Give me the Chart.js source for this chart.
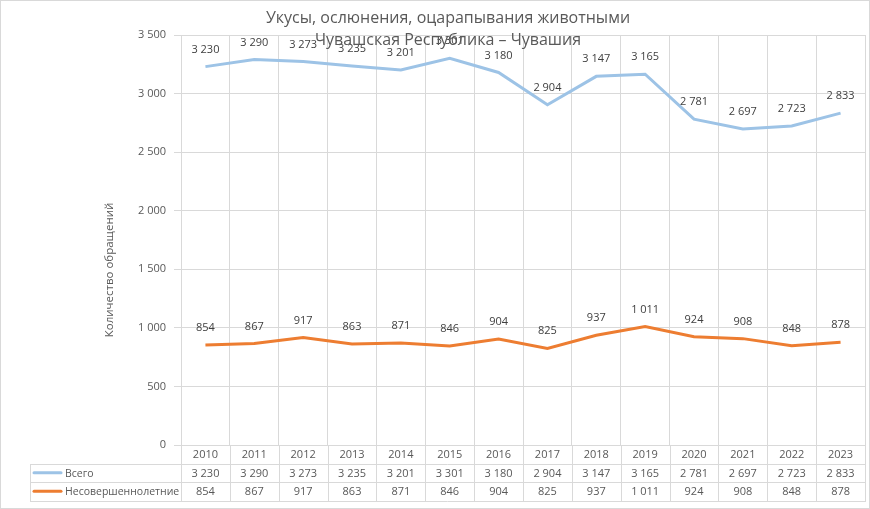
<!DOCTYPE html>
<html><head><meta charset="utf-8">
<script src="https://cdn.jsdelivr.net/npm/chart.js@4"></script>
<style>html,body{margin:0;padding:0;background:#fff}#wrap{width:870px;height:509px}</style>
</head><body><div id="wrap"><canvas id="c"></canvas></div>
<script>
const years = ['2010','2011','2012','2013','2014','2015','2016','2017','2018','2019','2020','2021','2022','2023'];
const total = [3230,3290,3273,3235,3201,3301,3180,2904,3147,3165,2781,2697,2723,2833];
const minors = [854,867,917,863,871,846,904,825,937,1011,924,908,848,878];
const seriesNames = ['Всего','Несовершеннолетние'];
const yTicks = [0,500,1000,1500,2000,2500,3000,3500];
const titleLines = ['Укусы, ослюнения, оцарапывания животными','Чувашская Республика – Чувашия'];
const yTitle = 'Количество обращений';

const FONT = '"Open Sans", "Noto Sans", sans-serif';
const fmt = v => String(v).replace(/\B(?=(\d{3})+(?!\d))/g, ' ');
const colors = ['#9DC3E6','#ED7D31'];
const gridC = '#D9D9D9';

const overlay = {
  id:'overlay',
  afterDraw(chart){
    const ctx = chart.ctx, x = chart.scales.x, ca = chart.chartArea;
    ctx.save();
    ctx.font = '11px ' + FONT; ctx.fillStyle = '#404040'; ctx.textAlign='center'; ctx.textBaseline='middle';
    chart.data.datasets.forEach((ds,i)=>{
      const meta = chart.getDatasetMeta(i);
      meta.data.forEach((p,j)=>{ ctx.fillText(fmt(ds.data[j]), p.x, p.y-17); });
    });
    ctx.font = '16px ' + FONT; ctx.fillStyle = '#595959';
    ctx.fillText(titleLines[0], 448, 18);
    ctx.fillText(titleLines[1], 448, 40);
    ctx.save(); ctx.translate(110, 270); ctx.rotate(-Math.PI/2);
    ctx.font = '11.5px ' + FONT; ctx.fillText(yTitle, 0, 0); ctx.restore();
    const rows = [ca.bottom, ca.bottom+18.5, ca.bottom+37, ca.bottom+55.5];
    const left = 30, right = ca.right;
    ctx.strokeStyle = gridC; ctx.lineWidth = 1;
    ctx.beginPath();
    ctx.moveTo(ca.left, rows[0]+0.5); ctx.lineTo(right, rows[0]+0.5);
    for (let r=1;r<4;r++){ ctx.moveTo(left, Math.round(rows[r])+0.5); ctx.lineTo(right, Math.round(rows[r])+0.5); }
    ctx.moveTo(left+0.5, Math.round(rows[1])); ctx.lineTo(left+0.5, Math.round(rows[3])+1);
    const n = years.length, step = (ca.right-ca.left)/n;
    for (let k=0;k<=n;k++){ const xx = Math.round(ca.left + k*step)+0.5; ctx.moveTo(xx, rows[0]); ctx.lineTo(xx, Math.round(rows[3])+1); }
    ctx.stroke();
    ctx.font = '11px ' + FONT; ctx.fillStyle = '#595959';
    years.forEach((y,j)=>{
      const cx = x.getPixelForValue(j);
      ctx.fillText(y, cx, (rows[0]+rows[1])/2+1);
      ctx.fillText(fmt(total[j]), cx, (rows[1]+rows[2])/2+1);
      ctx.fillText(fmt(minors[j]), cx, (rows[2]+rows[3])/2+1);
    });
    ctx.textAlign='left';
    [1,2].forEach((r,i)=>{
      const cy = (rows[r]+rows[r+1])/2;
      ctx.strokeStyle = colors[i]; ctx.lineWidth = 3; ctx.lineCap='round';
      ctx.beginPath(); ctx.moveTo(34, cy); ctx.lineTo(61, cy); ctx.stroke();
      ctx.fillStyle = '#595959'; ctx.font = '10.5px ' + FONT; ctx.fillText(seriesNames[i], 65, cy+1);
    });
    ctx.strokeStyle = gridC; ctx.lineWidth = 1;
    ctx.strokeRect(0.5,0.5,chart.width-1,chart.height-1);
    ctx.restore();
  }
};

new Chart(document.getElementById('c'), {
  type:'line',
  data:{ labels: years, datasets:[
    {label:seriesNames[0], data: total, borderColor: colors[0], borderWidth:3, pointRadius:0, tension:0},
    {label:seriesNames[1], data: minors, borderColor: colors[1], borderWidth:3, pointRadius:0, tension:0}
  ]},
  plugins:[overlay],
  options:{
    responsive:true, maintainAspectRatio:false, animation:false,
    layout:{padding:{left:0, top:35, right:5, bottom:64}},
    plugins:{legend:{display:false}, title:{display:false}, tooltip:{enabled:false}},
    scales:{
      x:{ offset:true, grid:{offset:true, color:gridC, drawTicks:false}, border:{display:false},
          ticks:{display:false}, afterFit(s){ s.height = 0; } },
      y:{ min:0, max:3500, afterBuildTicks(s){ s.ticks = yTicks.map(v=>({value:v})); },
          grid:{color:gridC, tickLength:7}, border:{display:false},
          ticks:{ color:'#595959', font:{family:FONT, size:11}, padding:8, callback:v=>fmt(v) },
          afterFit(s){ s.width = 181; } }
    }
  }
});
</script></body></html>
